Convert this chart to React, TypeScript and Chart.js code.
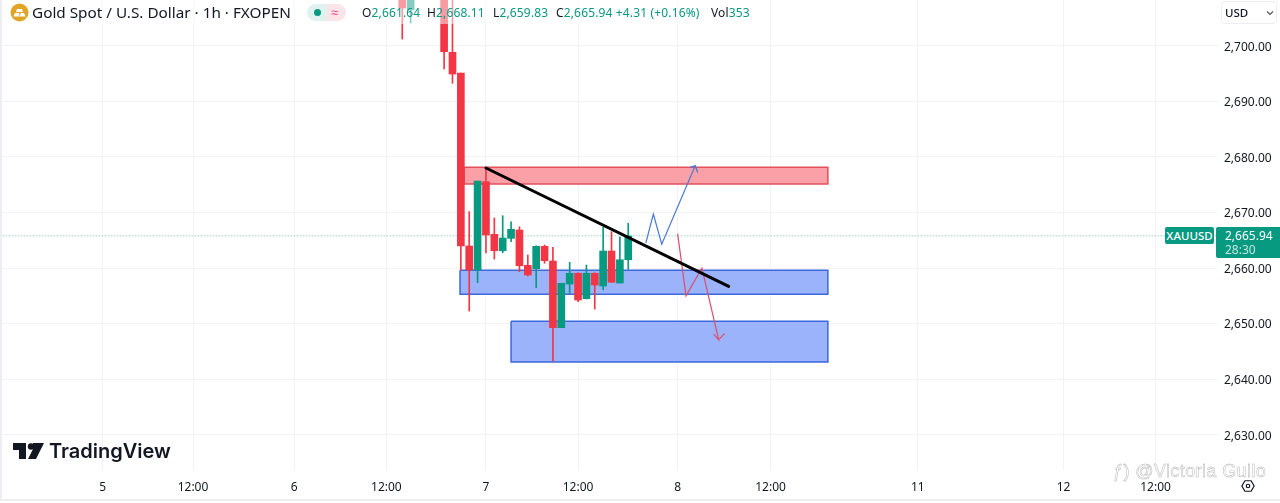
import React, { useEffect, useRef } from "react";
import { Chart, registerables } from "chart.js";

Chart.register(...registerables);

const BAR_INDEX = [-10, -9, -5, -4, -3, -2, -1, 0, 1, 2, 3, 4, 5, 6, 7, 8, 9, 10, 11, 12, 13, 14, 15, 16, 17];
const OPEN = [2712, 2706.43, 2712, 2698.81, 2695.09, 2663.96, 2659.64, 2675.53, 2666.06, 2663.11, 2665.34, 2666.84, 2660.49, 2659.87, 2663.9, 2661.26, 2649.26, 2657.12, 2659.05, 2654.48, 2659.05, 2656.76, 2663.06, 2657.3, 2661.49];
const HIGH = [2712, 2712, 2712, 2712, 2695.09, 2670.13, 2675.66, 2678.0, 2669.0, 2669.41, 2668.33, 2667.43, 2662.34, 2664.01, 2664.14, 2663.72, 2657.25, 2661.03, 2659.15, 2660.54, 2659.15, 2667.32, 2666.53, 2665.63, 2668.04];
const LOW = [2701.21, 2704.09, 2695.81, 2693.24, 2659.64, 2652.26, 2657.35, 2662.7, 2661.62, 2662.75, 2664.73, 2659.33, 2658.56, 2656.45, 2660.85, 2643.26, 2649.26, 2655.45, 2653.94, 2654.42, 2652.62, 2656.04, 2657.43, 2657.3, 2659.77];
const CLOSE = [2706.79, 2712, 2698.92, 2694.91, 2663.96, 2659.64, 2675.66, 2665.94, 2663.11, 2665.4, 2666.96, 2660.41, 2658.74, 2663.9, 2661.31, 2649.26, 2657.25, 2659.05, 2654.24, 2659.05, 2656.94, 2663.06, 2657.43, 2661.49, 2665.76];

const PRICE_TICKS = [2630, 2640, 2650, 2660, 2670, 2680, 2690, 2700];
const TIME_TICKS = [-45.8, -35, -22.9, -11.9, 0, 11, 22.9, 34, 51.6, 69, 80];
const TIME_LABELS = ["5", "12:00", "6", "12:00", "7", "12:00", "8", "12:00", "11", "12", "12:00"];

const LAST_PRICE = 2665.8;
const RED_ZONE = { from: -2.6, to: 40.85, top: 2678.15, bottom: 2675.1 };
const BLUE_ZONE = { from: -3.1, to: 40.85, top: 2659.6, bottom: 2655.3 };
const LOW_ZONE = { from: 3, to: 40.85, top: 2650.4, bottom: 2643.1 };
const TREND_X = [0, 29];
const TREND_Y = [2678.0, 2656.7];
const UP_X = [19.1, 20, 21, 25, 24.4, 25, 25.3];
const UP_Y = [2664.5, 2669.7, 2664.3, 2678.4, 2678.1, 2678.4, 2677.2];
const DOWN_X = [22.9, 23.9, 25.8, 27.8, 27.2, 27.8, 28.5];
const DOWN_Y = [2666.2, 2655, 2660, 2647.1, 2648.1, 2647.1, 2648.2];

const UP = "#089981";
const DOWN = "#f23645";

const rect = (z: { from: number; to: number; top: number; bottom: number }) => [
  { x: z.from, y: z.top },
  { x: z.to, y: z.top },
  { x: z.to, y: z.bottom },
  { x: z.from, y: z.bottom },
  { x: z.from, y: z.top },
];
const zip = (xs: number[], ys: number[]) => xs.map((x, i) => ({ x, y: ys[i] }));

const FONT = '"Noto Sans", sans-serif';

const noPadding = (a: any) => {
  a.paddingLeft = 0;
  a.paddingRight = 0;
  a.paddingTop = 0;
  a.paddingBottom = 0;
};

export default function App() {
  const ref = useRef<HTMLCanvasElement>(null);
  useEffect(() => {
    document.body.style.margin = "0";
    document.body.style.background = "#fff";
    const colors = BAR_INDEX.map((_, i) => (CLOSE[i] >= OPEN[i] ? UP : DOWN));
    const overlay = (data: any, color: string, width: number, order: number, extra: any = {}) => ({
      type: "line",
      data,
      borderColor: color,
      borderWidth: width,
      pointRadius: 0,
      tension: 0,
      fill: false,
      order,
      ...extra,
    });
    const chart = new Chart(ref.current!, {
      data: {
        datasets: [
          overlay(rect(RED_ZONE), "#e2505c", 1.5, 10, { fill: "shape", backgroundColor: "#fba0a6" }),
          overlay(rect(BLUE_ZONE), "#3d68dc", 1.5, 10, { fill: "shape", backgroundColor: "#9ab3fb" }),
          overlay(rect(LOW_ZONE), "#3d68dc", 1.5, 10, { fill: "shape", backgroundColor: "#9ab3fb" }),
          overlay(
            [{ x: -58.1, y: LAST_PRICE }, { x: 87.5, y: LAST_PRICE }],
            "#6cc3b4",
            1,
            9,
            { borderDash: [1, 2] }
          ),
          {
            type: "bar",
            data: BAR_INDEX.map((x, i) => ({ x, y: [LOW[i], HIGH[i]] })),
            backgroundColor: colors,
            barThickness: 1,
            grouped: false,
            order: 6,
          },
          {
            type: "bar",
            data: BAR_INDEX.map((x, i) => ({ x, y: [OPEN[i], CLOSE[i]] })),
            backgroundColor: colors,
            barThickness: 7,
            grouped: false,
            order: 5,
          },
          overlay(zip(TREND_X, TREND_Y), "#000", 3, 1, { borderCapStyle: "round" }),
          overlay(zip(UP_X, UP_Y), "#4a78d8", 1.2, 2),
          overlay(zip(DOWN_X, DOWN_Y), "#dd4f68", 1.2, 2),
        ] as any,
      },
      options: {
        animation: false,
        responsive: false,
        devicePixelRatio: 1,
        layout: { padding: 0 },
        plugins: { legend: { display: false }, tooltip: { enabled: false } },
        scales: {
          x: {
            type: "linear",
            offset: false,
            min: -58.06,
            max: 87.46,
            afterBuildTicks: (a: any) => {
              a.ticks = TIME_TICKS.map((value) => ({ value }));
            },
            afterFit: (a: any) => {
              a.height = 33;
              noPadding(a);
            },
            grid: { color: "#f3f3f3", drawTicks: false, offset: false },
            border: { display: false },
            ticks: {
              autoSkip: false,
              maxRotation: 0,
              padding: 10,
              color: "#131722",
              font: { family: FONT, size: 12 },
              callback: (_: any, i: number) => TIME_LABELS[i],
            },
          },
          y: {
            type: "linear",
            position: "right",
            min: 2623.65,
            max: 2708.23,
            afterBuildTicks: (a: any) => {
              a.ticks = PRICE_TICKS.map((value) => ({ value }));
            },
            afterFit: (a: any) => {
              a.width = 62;
              noPadding(a);
            },
            grid: { color: "#f3f3f3", drawTicks: false },
            border: { display: false },
            ticks: {
              padding: 6,
              labelOffset: 1.5,
              color: "#131722",
              font: { family: FONT, size: 12 },
              callback: (v: any) =>
                Number(v).toLocaleString("en-US", { minimumFractionDigits: 2, maximumFractionDigits: 2 }),
            },
          },
        },
      },
    } as any);
    return () => chart.destroy();
  }, []);

  const abs = (style: React.CSSProperties): React.CSSProperties => ({
    position: "absolute",
    whiteSpace: "nowrap",
    fontFamily: FONT,
    ...style,
  });
  const v = { color: "#089981" };
  const ohlc = { top: 3, fontSize: 12, lineHeight: "19px", color: "#131722", letterSpacing: 0.15 };
  return (
    <div style={{ position: "relative", width: 1280, height: 503, overflow: "hidden", background: "#fff" }}>
      <canvas ref={ref} width={1280} height={503} style={{ position: "absolute", left: 0, top: 0, width: 1280, height: 503 }} />

      <div style={abs({ left: 0, top: 0, width: 760, height: 24, background: "rgba(255,255,255,0.5)" })} />
      <svg style={{ position: "absolute", left: 10, top: 3 }} width={19} height={19} viewBox="0 0 19 19">
        <circle cx={9.5} cy={9.5} r={9} fill="#e0a526" />
        <path d="M7 6 L12 6 L13 9 L6 9Z M3.5 13.5 L5 10 L9 10 L9.7 13.5Z M10 13.5 L10.6 10 L14 10 L15.5 13.5Z" fill="#fff" />
      </svg>
      <div style={abs({ left: 32, top: 1, fontSize: 15.3, lineHeight: "22px", color: "#131722" })}>Gold Spot / U.S. Dollar · 1h · FXOPEN</div>
      <div style={abs({ left: 307, top: 4, width: 39, height: 17, borderRadius: 9, background: "linear-gradient(90deg,#dff2ee 50%,#fde3ea 50%)" })} />
      <div style={abs({ left: 314, top: 9, width: 7, height: 7, borderRadius: 4, background: UP })} />
      <div style={abs({ left: 331, top: 2, fontSize: 13, lineHeight: "20px", color: "#e0457b" })}>≈</div>
      <div style={abs({ left: 362, ...ohlc })}>
        O<span style={v}>2,661.64</span>
      </div>
      <div style={abs({ left: 427, ...ohlc })}>
        H<span style={v}>2,668.11</span>
      </div>
      <div style={abs({ left: 493, ...ohlc })}>
        L<span style={v}>2,659.83</span>
      </div>
      <div style={abs({ left: 556, ...ohlc })}>
        C<span style={v}>2,665.94 +4.31 (+0.16%)</span>
      </div>
      <div style={abs({ left: 711, ...ohlc })}>
        Vol<span style={v}>353</span>
      </div>

      <div style={abs({ left: 1221, top: 1, width: 56, height: 23, border: "1px solid #eceef2", borderRadius: 4, fontSize: 11.5, lineHeight: "21px", paddingLeft: 3, color: "#131722", boxSizing: "border-box", fontWeight: 500 })}>USD</div>
      <svg style={{ position: "absolute", left: 1266, top: 10 }} width={8} height={6} viewBox="0 0 8 6">
        <path d="M1 1.5 L4 4.5 L7 1.5" fill="none" stroke="#555" strokeWidth={1.2} />
      </svg>

      <div style={abs({ left: 1165, top: 227, width: 49, height: 17, background: UP, borderRadius: 2, color: "#fff", fontSize: 11.5, fontWeight: 500, lineHeight: "17px", textAlign: "center" })}>XAUUSD</div>
      <div style={abs({ left: 1216, top: 227, width: 64, height: 31, background: UP, borderRadius: "2px 0 0 2px", color: "#fff", fontSize: 12, lineHeight: "14px", padding: "2px 0 0 9px", boxSizing: "border-box" })}>
        2,665.94
        <div style={{ opacity: 0.75 }}>28:30</div>
      </div>

      <svg style={{ position: "absolute", left: 13, top: 442 }} width={32} height={19} viewBox="0 0 32 19">
        <path d="M0 1 H13 V17 H6 V8 H0Z M20 1 H31 L23 17 H15 L20 7Z" fill="#131722" />
        <circle cx={18} cy={4.5} r={3.2} fill="#131722" />
      </svg>
      <div style={abs({ left: 49, top: 437, fontFamily: "Inter, sans-serif", fontWeight: 600, fontSize: 20, lineHeight: "28px", color: "#131722" })}>TradingView</div>

      <svg style={{ position: "absolute", left: 1241, top: 479 }} width={14} height={14} viewBox="0 0 16 16">
        <path d="M4.5 2 H11.5 L15 8 L11.5 14 H4.5 L1 8Z" fill="none" stroke="#131722" strokeWidth={1.4} />
        <circle cx={8} cy={8} r={2} fill="none" stroke="#131722" strokeWidth={1.4} />
      </svg>

      <div style={abs({ left: 1113, top: 459, fontSize: 18, fontFamily: '"Liberation Sans", sans-serif', lineHeight: "24px", color: "#fff", WebkitTextStroke: "0.4px #aaa", letterSpacing: 0.4 } as any)}>ƒ) @Victoria Guilo</div>
      <div style={abs({ left: 0, top: 499, width: 1280, height: 2, background: "#eceef2" })} />
      <div style={abs({ left: 0, top: 0, width: 1.5, height: 499, background: "#eceef2" })} />
    </div>
  );
}
